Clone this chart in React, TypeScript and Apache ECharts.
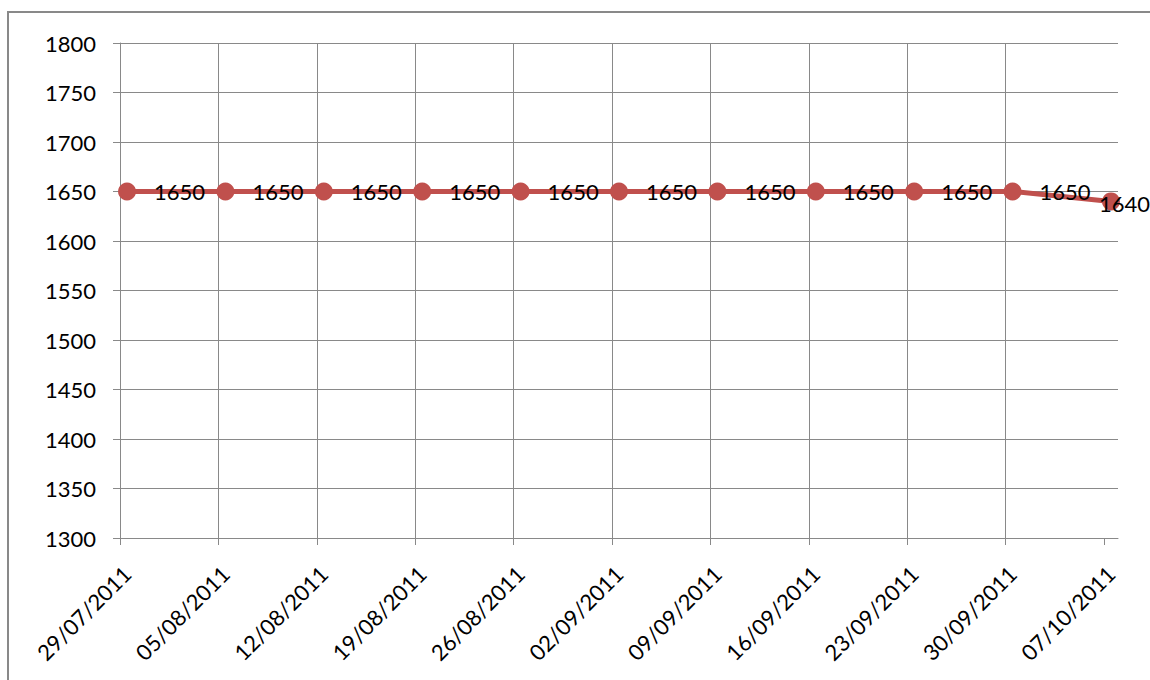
import React, { useEffect, useRef } from 'react';
import * as echarts from 'echarts';

// Data
const dates = [
  '29/07/2011', '05/08/2011', '12/08/2011', '19/08/2011', '26/08/2011', '02/09/2011',
  '09/09/2011', '16/09/2011', '23/09/2011', '30/09/2011', '07/10/2011',
];
const prices = [1650, 1650, 1650, 1650, 1650, 1650, 1650, 1650, 1650, 1650, 1640];
const yMin = 1300;
const yMax = 1800;
const yStep = 50;

const DAY = 86400000;
const parseDate = (s: string) => {
  const [d, m, y] = s.split('/').map(Number);
  return Date.UTC(y, m - 1, d);
};
const t0 = parseDate(dates[0]);
const dayIndex = (s: string) => Math.round((parseDate(s) - t0) / DAY);
const tickDays = dates.map(dayIndex);
const spanDays = tickDays[tickDays.length - 1] + 1;
const dayLabels: string[] = Array.from({ length: spanDays }, () => '');
dates.forEach((d) => {
  dayLabels[dayIndex(d)] = d;
});

export default function App() {
  const ref = useRef<HTMLDivElement>(null);
  useEffect(() => {
    const chart = echarts.init(ref.current as HTMLDivElement, null, { renderer: 'svg' });
    const font = 'Lato';
    const grey = '#898989';
    const red = '#C0504D';
    const seriesData = dates.map((d, i) => {
      const item: any = { value: [dayIndex(d) + 0.5, prices[i]] };
      if (i === dates.length - 1) {
        item.label = { position: [-3, 11], align: 'left', verticalAlign: 'middle' };
      }
      return item;
    });
    chart.setOption({
      animation: false,
      backgroundColor: '#ffffff',
      graphic: [
        {
          type: 'rect',
          shape: { x: 8, y: 12, width: 1400, height: 900 },
          style: { fill: 'none', stroke: grey, lineWidth: 2 },
          silent: true,
        },
      ],
      grid: { left: 120, top: 43, right: 32, bottom: 142, containLabel: false },
      xAxis: [
        {
          type: 'value',
          min: 0,
          max: spanDays,
          interval: 7,
          axisLine: { show: true, lineStyle: { color: grey, width: 1 } },
          axisTick: { show: true, length: 7, customValues: tickDays, lineStyle: { color: grey } },
          axisLabel: { show: false },
          splitLine: { show: true, showMaxLine: false, lineStyle: { color: grey, width: 1 } },
        },
        {
          type: 'category',
          data: dayLabels,
          boundaryGap: true,
          position: 'bottom',
          offset: 0,
          axisLine: { show: false },
          axisTick: { show: false },
          splitLine: { show: false },
          axisLabel: {
            interval: 0,
            rotate: 45,
            margin: 32,
            fontFamily: font,
            fontSize: 22,
            color: '#000',
          },
        },
      ],
      yAxis: {
        type: 'value',
        min: yMin,
        max: yMax,
        interval: yStep,
        axisLine: { show: true, lineStyle: { color: grey, width: 1 } },
        axisTick: { show: true, length: 7, lineStyle: { color: grey } },
        axisLabel: {
          margin: 24,
          fontFamily: font,
          fontSize: 22,
          color: '#000',
          formatter: (v: number) => String(v),
        },
        splitLine: { show: true, lineStyle: { color: grey, width: 1 } },
      },
      series: [
        {
          type: 'line',
          xAxisIndex: 0,
          data: seriesData,
          symbol: 'circle',
          symbolSize: 18,
          lineStyle: { color: red, width: 5 },
          itemStyle: { color: red },
          label: {
            show: true,
            position: 'right',
            distance: 18,
            fontFamily: font,
            fontSize: 22,
            color: '#000',
            formatter: (p: any) => String(p.value[1]),
          },
        },
      ],
    });
    return () => chart.dispose();
  }, []);
  return (
    <div
      ref={ref}
      style={{ position: 'fixed', left: 0, top: 0, width: 1150, height: 680, background: '#fff' }}
    />
  );
}
